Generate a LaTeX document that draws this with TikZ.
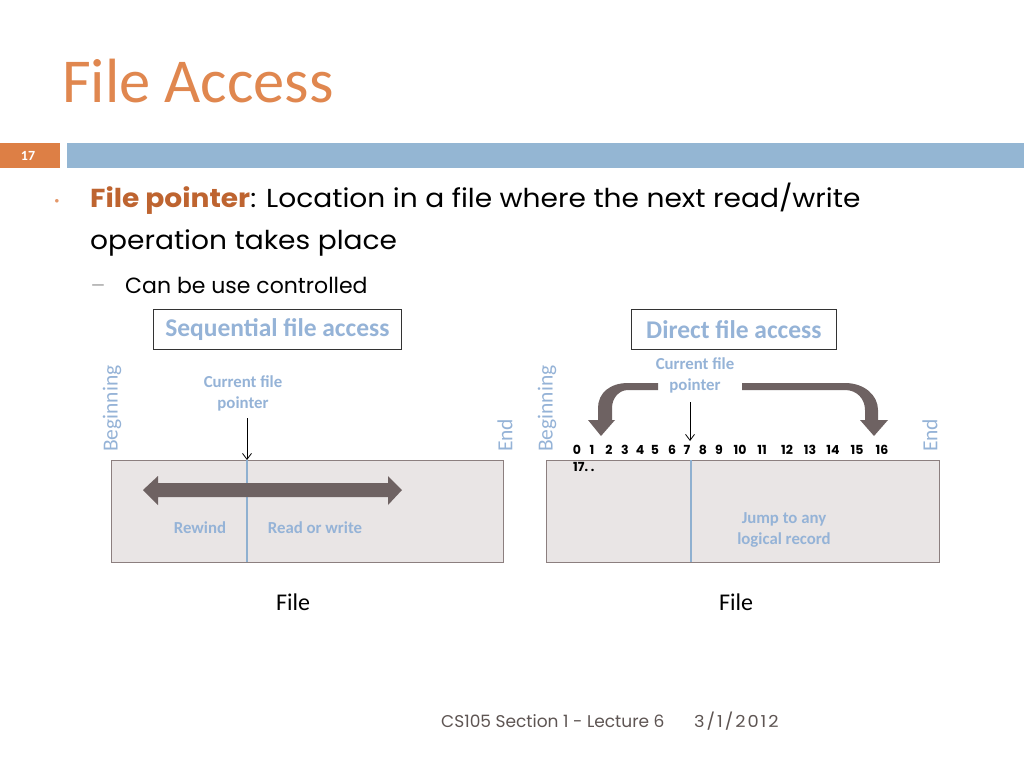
\documentclass[tikz,border=0pt]{standalone}
\usepackage{fontspec}
\setmainfont{Carlito}
\newfontfamily\gothic{Poppins}
\newfontfamily\gothicw[FakeStretch=1.08]{Poppins}
\usetikzlibrary{arrows.meta}
\definecolor{titleor}{HTML}{E0874F}
\definecolor{boldor}{HTML}{BE6430}
\definecolor{numor}{HTML}{DD7F45}
\definecolor{barblue}{HTML}{94B6D3}
\definecolor{ltblue}{HTML}{95B3D7}
\definecolor{rectfill}{HTML}{E9E5E5}
\definecolor{rectline}{HTML}{8C7F7F}
\definecolor{darkarr}{HTML}{6E6262}
\definecolor{divline}{HTML}{8FB0D0}
\definecolor{foot}{HTML}{5E5553}
\tikzset{
  lbl/.style={font=\bfseries\fontsize{16.8}{19}\selectfont, text=ltblue, align=center, inner sep=0pt},
  side/.style={font=\fontsize{21.5}{23}\selectfont, text=ltblue, rotate=90, anchor=west, inner sep=0pt},
  filebox/.style={draw=rectline, fill=rectfill, line width=1.2pt, minimum width=392, minimum height=102, anchor=north west, inner sep=0pt},
  headbox/.style={draw=black!80, line width=0.8pt, font=\bfseries\fontsize{25.5}{27}\selectfont, text=ltblue, inner sep=0pt, minimum height=40, anchor=north west},
  ptr/.style={-{Straight Barb[length=6pt,width=9pt]}, line width=0.8pt, black},
  divide/.style={draw=divline, line width=1.8pt},
  body/.style={font=\gothicw\fontsize{26}{30}\selectfont, anchor=base west, inner sep=0pt},
  numlbl/.style={font=\gothic\bfseries\fontsize{12.5}{14}\selectfont, anchor=base, inner sep=0pt},
}
\begin{document}
\begin{tikzpicture}[x=1pt,y=-1pt]
\useasboundingbox (0,0) rectangle (1024,768);
\fill[white] (0,0) rectangle (1024,768);
% title
\node[font=\fontsize{62.5}{64}\selectfont, text=titleor, anchor=base west, inner sep=0pt] (title) at (62,102) {File Access};
% bars
\fill[numor] (0,143) rectangle (60,168);
\fill[barblue] (67,143) rectangle (1024,168);
\node[font=\bfseries\fontsize{14}{14}\selectfont, text=white, inner sep=0pt] (num) at (28,155.5) {17};
% bullet text
\node[text=numor!80, font=\fontsize{9}{9}\selectfont, inner sep=0pt] (bul) at (57,201) {$\bullet$};
\node[body] (l1) at (90,207) {\textcolor{boldor}{\bfseries File pointer}: Location in a file where the next read/write};
\node[body] (l2) at (90,249) {operation takes place};
\node[text=gray!60, font=\gothic\fontsize{22}{22}\selectfont, anchor=base, inner sep=0pt] (dash) at (98,293) {–};
\node[body, font=\gothic\fontsize{22}{26}\selectfont] (l3) at (125,293) {Can be use controlled};

% ---------- sequential ----------
\node[headbox, minimum width=248] (seqh) at (153,309) {Sequential file access};
\node[filebox] (seqf) at (111,460) {};
\draw[divide] (247,460) -- (247,562);
\fill[darkarr] (143,490) -- (158,476) -- (158,483) -- (388,483) -- (388,476) -- (402,490) -- (388,505) -- (388,497) -- (158,497) -- (158,505) -- cycle;
\node[lbl] (cfp1) at (243,393) {Current file\\[2pt]pointer};
\coordinate (p1top) at (247,418);
\coordinate (p1bot) at (247,460);
\draw[ptr] (p1top) -- (p1bot);
\node[lbl] (rew) at (200,528) {Rewind};
\node[lbl] (rw) at (315,528) {Read or write};
\node[side] (beg1) at (112,452) {Beginning};
\node[side] (end1) at (505,452) {End};
\node[font=\fontsize{24}{26}\selectfont, inner sep=0pt] (file1) at (293,602) {File};

% ---------- direct ----------
\node[headbox, minimum width=205] (dirh) at (631,309) {Direct file access};
\node[filebox, minimum width=393] (dirf) at (546,460) {};
\draw[divide] (691,460) -- (691,562);
\node[lbl] (cfp2) at (695,375) {Current file\\[2pt]pointer};
\coordinate (p2top) at (690,402);
\coordinate (p2bot) at (690,441);
\draw[ptr] (p2top) -- (p2bot);
\fill[darkarr] (658,383) -- (628,383) .. controls (610,383) and (598,393) .. (598,408) -- (598,420) -- (588,420) -- (601,436) -- (615,420) -- (612,420) -- (612,408) .. controls (612,398) and (619,390) .. (628,390) -- (658,390) -- cycle;
\fill[darkarr] (742,383) -- (845,383) .. controls (864,383) and (878,395) .. (878,410) -- (878,420) -- (888,420) -- (874,436) -- (860,420) -- (865,420) -- (865,410) .. controls (865,399) and (857,390) .. (845,390) -- (742,390) -- cycle;
\foreach \n/\x in {0/577,1/592,2/609,3/625,4/640,5/655,6/672,7/687,8/703,9/719,10/740,11/762,12/787,13/810,14/833,15/857,16/882}
  \node[numlbl] (n\n) at (\x,454) {\n};
\node[numlbl, anchor=base west] (nums2) at (573,471) {17.\ .};
\node[lbl] (jump) at (784,530) {Jump to any\\[2pt]logical record};
\node[side] (beg2) at (547,452) {Beginning};
\node[side] (end2) at (930,452) {End};
\node[font=\fontsize{24}{26}\selectfont, inner sep=0pt] (file2) at (736,602) {File};

% footer
\node[font=\gothic\fontsize{17}{18}\selectfont, text=foot, anchor=base west, inner sep=0pt] (ft1) at (441,727) {CS105 Section 1 - Lecture 6};
\node[font=\gothicw\fontsize{16.5}{18}\selectfont\addfontfeature{LetterSpace=12}, text=foot, anchor=base west, inner sep=0pt] (ft2) at (694,727) {3/1/2012};
\end{tikzpicture}
\end{document}
